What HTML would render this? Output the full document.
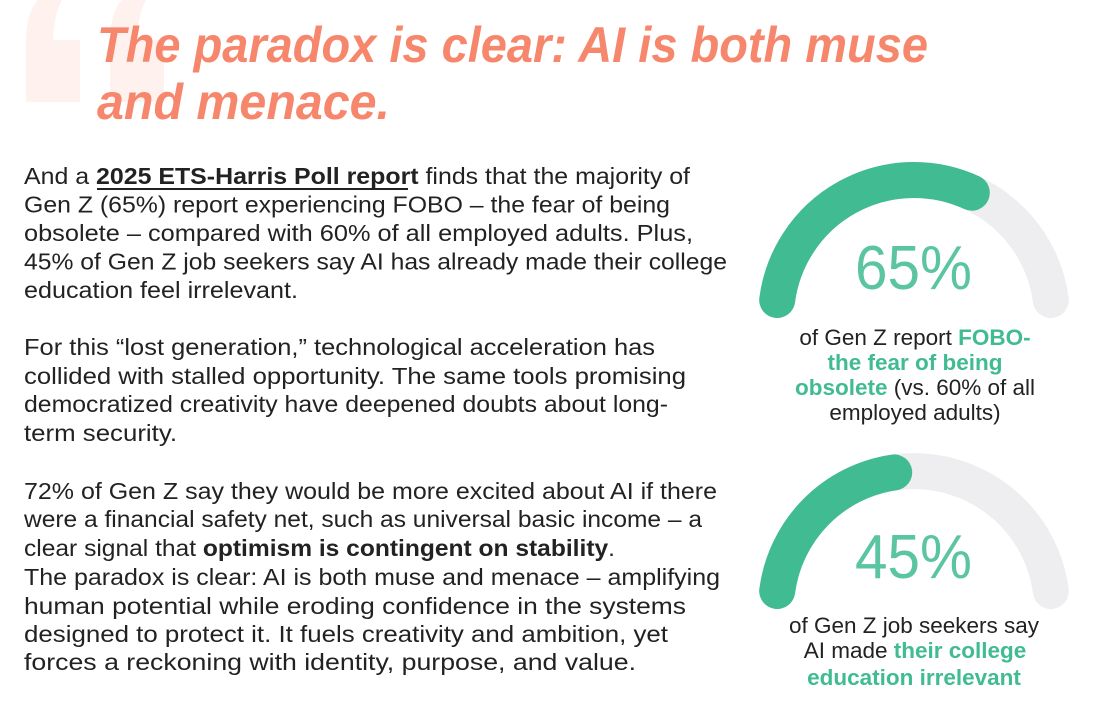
<!DOCTYPE html>
<html><head><meta charset="utf-8"><style>
html,body{margin:0;padding:0;background:#fff;}
svg{display:block;}
text{font-family:"Liberation Sans",Arial,sans-serif;}
</style></head><body>
<svg width="1118" height="720" viewBox="0 0 1118 720" xmlns="http://www.w3.org/2000/svg">
<rect width="1118" height="720" fill="#fff"/>
<g fill="#FEF1EE">
<path d="M26 102 L26 35 Q28 10 38 0 L62 0 Q54 14 53 40 L80 40 L80 102 Z"/>
<path d="M110 102 L110 35 Q112 10 122 0 L146 0 Q138 14 137 40 L164 40 L164 102 Z"/>
</g>
<g fill="#F7876C" font-weight="bold" font-style="italic" font-size="50">
<text x="97" y="62" textLength="831" lengthAdjust="spacingAndGlyphs">The paradox is clear: AI is both muse</text>
<text x="97" y="119" textLength="293" lengthAdjust="spacingAndGlyphs">and menace.</text>
</g>
<g fill="#222" font-size="23">
<text x="24" y="184" textLength="666" lengthAdjust="spacingAndGlyphs">And a <tspan font-weight="bold">2025 ETS-Harris Poll report</tspan> finds that the majority of</text>
<text x="24" y="212.5" textLength="646" lengthAdjust="spacingAndGlyphs">Gen Z (65%) report experiencing FOBO – the fear of being</text>
<text x="24" y="241" textLength="669" lengthAdjust="spacingAndGlyphs">obsolete – compared with 60% of all employed adults. Plus,</text>
<text x="24" y="269.5" textLength="703" lengthAdjust="spacingAndGlyphs">45% of Gen Z job seekers say AI has already made their college</text>
<text x="24" y="298" textLength="274" lengthAdjust="spacingAndGlyphs">education feel irrelevant.</text>

<text x="24" y="355" textLength="631" lengthAdjust="spacingAndGlyphs">For this “lost generation,” technological acceleration has</text>
<text x="24" y="384" textLength="662" lengthAdjust="spacingAndGlyphs">collided with stalled opportunity. The same tools promising</text>
<text x="24" y="412" textLength="644" lengthAdjust="spacingAndGlyphs">democratized creativity have deepened doubts about long-</text>
<text x="24" y="441" textLength="153" lengthAdjust="spacingAndGlyphs">term security.</text>

<text x="24" y="499" textLength="693" lengthAdjust="spacingAndGlyphs">72% of Gen Z say they would be more excited about AI if there</text>
<text x="24" y="527" textLength="678" lengthAdjust="spacingAndGlyphs">were a financial safety net, such as universal basic income – a</text>
<text x="24" y="556" textLength="591" lengthAdjust="spacingAndGlyphs">clear signal that <tspan font-weight="bold">optimism is contingent on stability</tspan>.</text>
<text x="24" y="585" textLength="696" lengthAdjust="spacingAndGlyphs">The paradox is clear: AI is both muse and menace – amplifying</text>
<text x="24" y="614" textLength="662" lengthAdjust="spacingAndGlyphs">human potential while eroding confidence in the systems</text>
<text x="24" y="642" textLength="644" lengthAdjust="spacingAndGlyphs">designed to protect it. It fuels creativity and ambition, yet</text>
<text x="24" y="670" textLength="612" lengthAdjust="spacingAndGlyphs">forces a reckoning with identity, purpose, and value.</text>
</g>
<line x1="97" y1="189" x2="408" y2="189" stroke="#222" stroke-width="2"/>

<g fill="none" stroke-width="36" stroke-linecap="round">
<path d="M777.2 300 A138 138 0 0 1 1050.8 300" stroke="#EEEEF0"/>
<path d="M777.2 300 A138 138 0 0 1 971.8 192.7" stroke="#40BB92"/>
<path d="M777.2 591 A138 138 0 0 1 1050.8 591" stroke="#EEEEF0"/>
<path d="M777.2 591 A138 138 0 0 1 894.2 472.4" stroke="#40BB92"/>
</g>
<g fill="#5BC4A2" font-size="62">
<text x="855" y="289" textLength="117" lengthAdjust="spacingAndGlyphs">65%</text>
<text x="855" y="578" textLength="117" lengthAdjust="spacingAndGlyphs">45%</text>
</g>
<g font-size="22.5" fill="#222" text-anchor="middle">
<text x="915" y="345">of Gen Z report <tspan fill="#40BB92" font-weight="bold">FOBO-</tspan></text>
<text x="915" y="370" fill="#40BB92" font-weight="bold">the fear of being</text>
<text x="915" y="395"><tspan fill="#40BB92" font-weight="bold">obsolete</tspan> (vs. 60% of all</text>
<text x="915" y="420">employed adults)</text>
<text x="914" y="633">of Gen Z job seekers say</text>
<text x="915" y="658">AI made <tspan fill="#40BB92" font-weight="bold">their college</tspan></text>
<text x="914" y="685" fill="#40BB92" font-weight="bold">education irrelevant</text>
</g>
</svg>
</body></html>
